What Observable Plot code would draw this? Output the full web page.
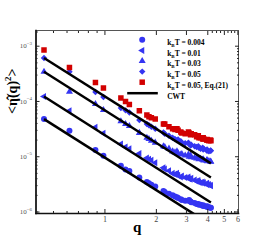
<!DOCTYPE html>
<html><head><meta charset="utf-8">
<script src="https://cdn.jsdelivr.net/npm/d3@7"></script>
<script src="https://cdn.jsdelivr.net/npm/@observablehq/plot@0.6"></script>
<style>
body{margin:0;background:#fff;}
#chart{width:271px;height:241px;}
</style></head><body><div id="chart"></div>
<script>
// wave numbers q
const q = [0.44,0.62,0.88,0.98,1.24,1.32,1.39,1.59,1.76,1.81,1.87,1.97,2.20,2.24,2.37,2.49,2.57,2.64,2.68,2.78,2.82,2.95,3.08,3.11,3.17,3.20,3.35,3.44,3.52,3.55,3.63,3.73,3.76,3.79,3.94,3.96,3.98,4.06,4.15,4.17];
// <|eta(q)|^2> for each temperature
const kT004 = [4.8e-5,2.95e-5,1.32e-5,1.04e-5,6.9e-6,5.9e-6,5.5e-6,4.2e-6,3.5e-6,3.3e-6,3.1e-6,2.9e-6,2.4e-6,2.3e-6,2.15e-6,2.0e-6,1.9e-6,1.85e-6,1.8e-6,1.7e-6,1.65e-6,1.6e-6,1.6e-6,1.65e-6,1.55e-6,1.5e-6,1.45e-6,1.4e-6,1.4e-6,1.35e-6,1.35e-6,1.3e-6,1.32e-6,1.28e-6,1.25e-6,1.27e-6,1.24e-6,1.22e-6,1.2e-6,1.2e-6];
const kT01 = [1.23e-4,6.8e-5,3.4e-5,2.65e-5,1.7e-5,1.5e-5,1.4e-5,1.15e-5,9.5e-6,9.0e-6,8.6e-6,7.8e-6,6.3e-6,6.0e-6,5.6e-6,5.0e-6,4.8e-6,5.0e-6,4.6e-6,4.3e-6,4.5e-6,4.2e-6,4.3e-6,4.0e-6,3.9e-6,4.1e-6,3.8e-6,3.6e-6,3.7e-6,3.5e-6,3.4e-6,3.5e-6,3.3e-6,3.4e-6,3.2e-6,3.3e-6,3.1e-6,3.15e-6,3.05e-6,3.0e-6];
const kT03 = [3.45e-4,1.5e-4,9.0e-5,7.0e-5,4.4e-5,3.9e-5,3.6e-5,2.7e-5,2.2e-5,2.1e-5,1.95e-5,1.8e-5,1.55e-5,1.5e-5,1.4e-5,1.25e-5,1.2e-5,1.25e-5,1.15e-5,1.1e-5,1.12e-5,1.05e-5,1.1e-5,1.0e-5,1.05e-5,9.8e-6,9.6e-6,9.3e-6,9.5e-6,9.0e-6,9.2e-6,8.8e-6,9.0e-6,8.6e-6,8.5e-6,8.7e-6,8.3e-6,8.4e-6,8.2e-6,8.1e-6];
const kT05 = [6.1e-4,3.45e-4,1.48e-4,1.2e-4,7.6e-5,6.9e-5,6.3e-5,4.6e-5,3.9e-5,3.7e-5,3.5e-5,3.2e-5,2.75e-5,2.6e-5,2.4e-5,2.2e-5,2.1e-5,2.0e-5,2.05e-5,1.9e-5,1.8e-5,1.75e-5,1.8e-5,1.7e-5,1.6e-5,1.65e-5,1.55e-5,1.5e-5,1.55e-5,1.45e-5,1.4e-5,1.45e-5,1.35e-5,1.4e-5,1.3e-5,1.35e-5,1.3e-5,1.25e-5,1.3e-5,1.28e-5];
const kT05eq21 = [8.5e-4,4.1e-4,2.2e-4,1.75e-4,1.15e-4,1.0e-4,8.8e-5,6.8e-5,5.7e-5,5.3e-5,5.1e-5,4.8e-5,3.9e-5,3.9e-5,3.5e-5,3.2e-5,3.1e-5,3.2e-5,3.0e-5,2.8e-5,2.7e-5,2.6e-5,2.8e-5,2.7e-5,2.5e-5,2.6e-5,2.5e-5,2.3e-5,2.4e-5,2.2e-5,2.2e-5,2.1e-5,2.2e-5,2.1e-5,2.0e-5,2.05e-5,2.0e-5,1.95e-5,2.0e-5,1.95e-5];
const seriesNames = ["kBT = 0.004","kBT = 0.01","kBT = 0.03","kBT = 0.05","kBT = 0.05, Eq.(21)"];
// CWT lines: endpoints
const cwtQ = [0.44, 4.17];
const cwtStart = [4.8e-5, 1.23e-4, 3.45e-4, 6.1e-4];
const cwtEnd = [5.9e-7, 1.49e-6, 4.2e-6, 7.6e-6];
// ticks
const xMajor = [1,2,3,4,5,6];
const xMinor = [0.4,0.5,0.6,0.7,0.8,0.9,4.25,4.5,4.75,5.25,5.5,5.75];
const yMajor = [1e-6,1e-5,1e-4,1e-3];
const yMinor = [];
for (const e of [-7,-6,-5,-4,-3]) for (let m = 2; m <= 9; m++) yMinor.push(m * 10 ** e);

const blue = "#3535f2", red = "#d20000";
const valueSets = [kT004, kT01, kT03, kT05, kT05eq21];
const styles = [
  {symbol:"circle", fill:blue, r:3, rotate:0},
  {symbol:"triangle", fill:blue, r:2.6, rotate:-90},
  {symbol:"triangle", fill:blue, r:2.6, rotate:0},
  {symbol:"diamond2", fill:blue, r:2.9, rotate:0},
  {symbol:"square", fill:red, r:3.1, rotate:0}
];
const tables = valueSets.map(vals => q.map((qq, i) => ({q: qq, v: vals[i]})));
const cwt = cwtStart.map((s, i) => ({q1: cwtQ[0], v1: s, q2: cwtQ[1], v2: cwtEnd[i]}));

const marks = [];
tables.forEach((t, k) => {
  marks.push(Plot.dot(t, {x:"q", y:"v", symbol: styles[k].symbol, fill: styles[k].fill, r: styles[k].r, rotate: styles[k].rotate, clip:true}));
});
marks.push(Plot.link(cwt, {x1:"q1", y1:"v1", x2:"q2", y2:"v2", stroke:"black", strokeWidth:2.5, clip:true}));
// frame
marks.push(Plot.frame({stroke:"#555", strokeWidth:1}));
marks.push(Plot.frame({anchor:"left", stroke:"#111", strokeWidth:1.6}));
marks.push(Plot.frame({anchor:"bottom", stroke:"#111", strokeWidth:1.6}));
// axes: inward ticks on all sides
for (const anchor of ["bottom","top"]) {
  marks.push(Plot.axisX(xMajor, {anchor, tickSize:-4, fill:"none", stroke:"#222", label:null}));
  marks.push(Plot.axisX(xMinor, {anchor, tickSize:-2, fill:"none", stroke:"#222", label:null}));
}
for (const anchor of ["left","right"]) {
  marks.push(Plot.axisY(yMajor, {anchor, tickSize:-4, fill:"none", stroke:"#222", label:null}));
  marks.push(Plot.axisY(yMinor.filter(v => v > 9.4e-7 && v < 1.9e-3), {anchor, tickSize:-2, fill:"none", stroke:"#222", label:null}));
}
// tick labels
marks.push(Plot.text(xMajor, {x: d => d, text: d => String(d), frameAnchor:"bottom", dy:8, fontSize:8, fill:"#444"}));
marks.push(Plot.text(yMajor, {y: d => d, text: d => "10^" + Math.round(Math.log10(d)), frameAnchor:"left", dx:-4, textAnchor:"end", fontSize:7, fill:"#555"}));
// axis titles
marks.push(Plot.text(["q"], {text: d => d, frameAnchor:"bottom", dy:18, fontSize:15, fontWeight:"bold"}));
marks.push(Plot.text(["YLABEL"], {text: d => d, frameAnchor:"left", dx:-23.5, dy:-8, rotate:-90, fontSize:14, fontWeight:"bold"}));
// legend
styles.forEach((s, k) => {
  marks.push(Plot.dot([seriesNames[k]], {frameAnchor:"top-left", dx:106.2, dy:9.3 + k * 10.6, symbol:s.symbol, fill:s.fill, r:s.r, rotate:s.rotate}));
  marks.push(Plot.text([seriesNames[k]], {text: d => d, frameAnchor:"top-left", dx:131.2, dy:9.3 + k * 10.6, textAnchor:"start", fontSize:7.5, fontWeight:"bold"}));
});
const legendLine = {draw(ctx) { ctx.moveTo(-15.3, 0); ctx.lineTo(15.3, 0); }};
marks.push(Plot.dot(["CWT"], {frameAnchor:"top-left", dx:106.5, dy:62.7, symbol:legendLine, stroke:"black", strokeWidth:2.5, fill:"none"}));
marks.push(Plot.text(["CWT"], {text: d => d, frameAnchor:"top-left", dx:131.2, dy:62.7, textAnchor:"start", fontSize:7.5, fontWeight:"bold"}));

const svg = Plot.plot({
  width:271, height:241,
  marginLeft:35.5, marginRight:33, marginTop:30, marginBottom:28,
  x:{type:"log", domain:[0.395, 6.05], label:null},
  y:{type:"log", domain:[10 ** -6.027, 10 ** -2.716], label:null},
  style:{fontFamily:"'Liberation Serif','Times New Roman',serif", background:"white", color:"black"},
  marks
});
document.getElementById("chart").appendChild(svg);

// rich text post-processing (subscripts / superscripts)
d3.select(svg).selectAll("text").each(function() {
  const t = this.textContent;
  const el = d3.select(this);
  if (t.startsWith("kBT")) {
    el.text("");
    el.append("tspan").text("k");
    el.append("tspan").attr("dy", 2).attr("font-size", 5).text("B");
    el.append("tspan").attr("dy", -2).text(t.slice(2));
  } else if (t.startsWith("10^")) {
    el.text("");
    el.append("tspan").text("10");
    el.append("tspan").attr("dy", -3.5).attr("font-size", 5).text(t.slice(3).replace("-", "\u2212"));
  } else if (t === "YLABEL") {
    el.text("");
    el.append("tspan").text("<\u03B7\u0302(q)");
    el.append("tspan").attr("dy", -6).attr("font-size", 9).text("2");
    el.append("tspan").attr("dy", 6).text(">");
  }
});
</script></body></html>
